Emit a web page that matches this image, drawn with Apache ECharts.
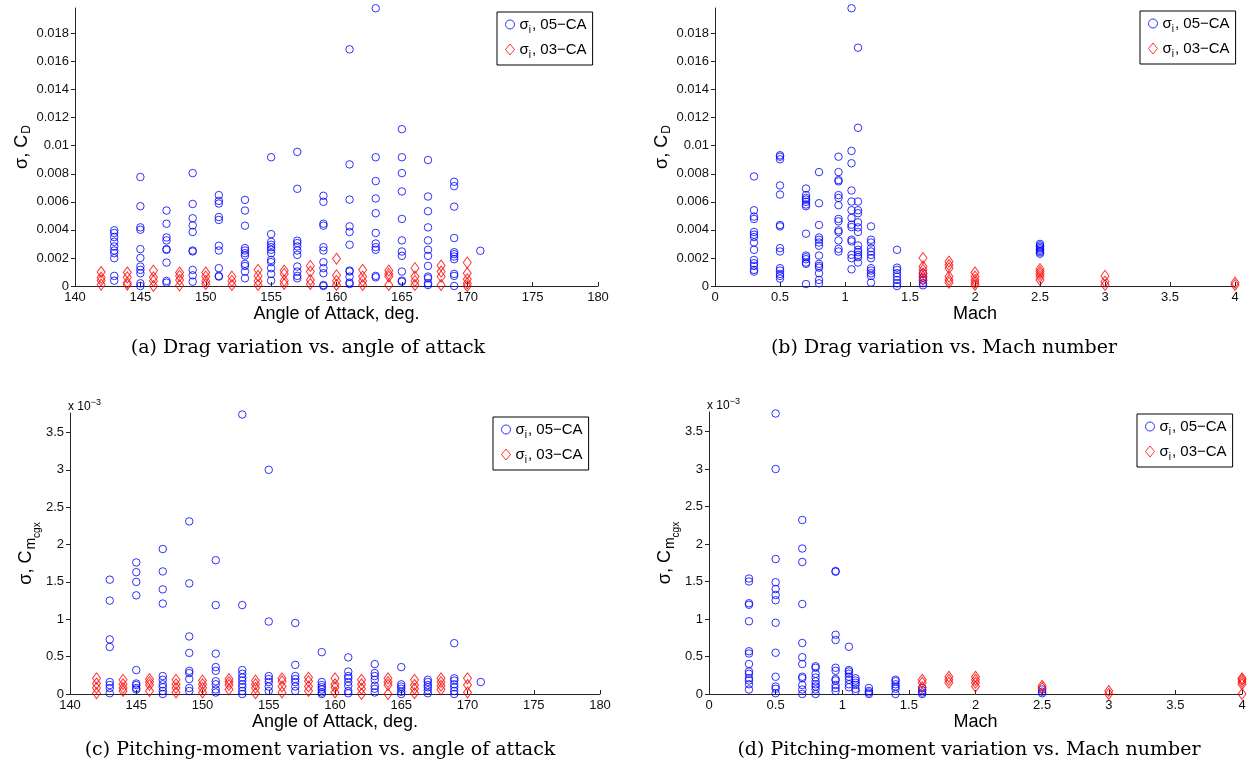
<!DOCTYPE html>
<html>
<head>
<meta charset="utf-8">
<script src="https://cdn.jsdelivr.net/npm/echarts@6/dist/echarts.min.js"></script>
<style>
html,body{margin:0;padding:0;background:#fff;}
#c{width:1255px;height:775px;}
</style>
</head>
<body>
<div id="c"></div>
<script>
// ---------------- DATA ----------------
// Drag sigma (x10^-3) vs angle of attack
const aoaBlueX = [143,145,147,149,151,153,155,157,159,161,163,165,167,169,171];
const cdAoaBlue = [
  [3.97,3.78,3.49,3.15,2.82,2.53,2.34,1.98,0.72,0.38],
  [7.77,5.69,4.18,4.01,2.63,2.0,1.39,1.15,0.91,0.19,0.0],
  [5.38,4.44,3.46,3.25,2.63,2.58,1.67,0.36,0.24],
  [8.05,5.85,4.83,4.32,3.85,2.53,2.46,1.15,0.76,0.31],
  [6.48,6.07,5.88,4.92,4.71,2.87,2.53,1.27,0.72,0.67],
  [6.14,5.38,4.3,2.7,2.53,2.34,2.17,1.58,1.43,1.03,0.55],
  [9.18,3.7,3.15,2.94,2.77,2.58,2.34,1.86,1.7,1.27,0.86,0.38],
  [9.56,6.93,3.23,3.06,2.82,2.53,2.22,1.39,1.03,0.72,0.55],
  [6.43,6.0,4.44,4.3,2.77,2.53,1.7,1.27,0.91,0.07,0.0],
  [16.87,8.67,6.16,4.25,3.85,2.94,1.1,1.03,0.67,0.24,0.14],
  [19.8,9.18,7.48,6.24,5.19,3.78,3.03,2.77,2.58,0.72,0.62],
  [11.18,9.18,8.05,6.74,4.78,3.25,2.46,2.15,1.03,0.38,0.31],
  [8.98,6.38,5.33,4.18,3.25,2.58,2.15,1.43,0.67,0.55,0.19,0.07],
  [7.43,7.12,5.66,3.42,2.41,2.27,2.1,1.91,0.86,0.72,0.0],
  [2.51]
];
const aoaRedX = [142,144,146,148,150,152,154,156,158,160,162,164,166,168,170];
const cdAoaRed = [
  [1.0,0.6,0.4,0.1],
  [0.96,0.62,0.24,0.1],
  [1.1,0.62,0.36,0.0],
  [0.96,0.72,0.43,0.05],
  [0.96,0.67,0.36,0.14],
  [0.67,0.36,0.07],
  [1.15,0.72,0.36,0.07],
  [1.1,0.86,0.38,0.14],
  [1.43,1.03,0.43,0.14],
  [1.94,0.76,0.36,0.07],
  [1.15,0.67,0.36,0.07],
  [1.1,0.86,0.67,0.07],
  [1.27,0.67,0.36,0.07],
  [1.46,1.03,0.67,0.07],
  [1.67,0.91,0.48,0.19,0.0]
];
// Drag sigma (x10^-3) vs Mach
const machBlueX = [0.3,0.5,0.7,0.8,0.95,1.05,1.1,1.2,1.4,1.6,2.5];
const cdMachBlue = [
  [7.81,5.4,4.95,4.78,3.85,3.66,3.49,3.1,2.58,1.86,1.62,1.43,1.15,1.03],
  [9.32,9.22,9.03,7.17,6.52,4.35,4.25,2.7,2.46,1.27,1.1,0.86,0.72,0.53],
  [6.95,6.48,6.28,6.16,6.0,5.81,5.69,3.73,2.17,2.05,1.91,1.67,1.58,0.14],
  [8.12,5.9,4.35,3.46,3.3,3.1,2.87,2.17,1.58,1.43,1.31,0.91,0.43,0.19],
  [9.22,8.12,7.55,7.46,6.48,6.28,5.76,4.78,4.61,3.97,3.85,3.25,2.65,2.46],
  [19.8,9.63,8.75,6.81,6.02,5.4,4.85,4.37,4.2,3.3,3.18,2.22,1.98,1.19],
  [16.99,11.28,6.02,5.4,5.19,4.54,4.18,3.85,2.89,2.58,2.41,2.22,2.05,1.67],
  [4.25,3.3,3.1,2.7,2.46,2.22,1.98,1.27,1.1,0.91,0.72,0.24],
  [2.58,1.31,1.15,0.91,0.67,0.43,0.19,0.0],
  [0.9,0.6,0.4,0.2,0.05],
  [3.0,2.9,2.8,2.7,2.6,2.5,2.4,2.3]
];
const machRedX = [1.6,1.8,2.0,2.5,3.0,4.0];
const cdMachRed = [
  [1.99,1.39,1.15,0.91,0.67,0.43],
  [1.74,1.5,1.27,0.67,0.43,0.24],
  [0.96,0.67,0.43,0.24,0.07],
  [1.2,1.03,0.86,0.67,0.43],
  [0.72,0.31,0.07],
  [0.24,0.07]
];
// Pitching-moment sigma (x10^-3) vs angle of attack
const cmAoaBlue = [
  [1.53,1.25,0.73,0.63,0.16,0.12,0.08,0.01],
  [1.76,1.63,1.5,1.32,0.32,0.14,0.12,0.08,0.06],
  [1.94,1.64,1.4,1.21,0.24,0.19,0.13,0.09,0.04,0.0],
  [2.31,1.48,0.77,0.55,0.31,0.28,0.2,0.08,0.04],
  [1.79,1.19,0.54,0.36,0.31,0.17,0.13,0.06,0.02],
  [3.74,1.19,0.32,0.27,0.22,0.18,0.13,0.09,0.04,0.0],
  [3.0,0.97,0.24,0.2,0.16,0.1,0.04],
  [0.95,0.39,0.24,0.2,0.16,0.1,0.04],
  [0.56,0.16,0.12,0.09,0.06,0.02,0.0],
  [0.49,0.3,0.24,0.21,0.16,0.11,0.04,0.01],
  [0.4,0.28,0.24,0.19,0.11,0.07,0.02],
  [0.36,0.13,0.1,0.07,0.03,0.0],
  [0.19,0.16,0.12,0.09,0.05,0.01],
  [0.68,0.21,0.18,0.13,0.09,0.04,0.0],
  [0.16]
];
const cmAoaRed = [
  [0.21,0.14,0.08,0.01],
  [0.19,0.13,0.08,0.04],
  [0.2,0.16,0.12,0.04],
  [0.19,0.13,0.08,0.02],
  [0.18,0.13,0.08,0.02],
  [0.2,0.16,0.12,0.06],
  [0.18,0.13,0.08,0.01],
  [0.21,0.17,0.1,0.02],
  [0.22,0.17,0.1,0.04],
  [0.21,0.13,0.09,0.02],
  [0.19,0.13,0.07,0.0],
  [0.21,0.16,0.12,0.0],
  [0.19,0.12,0.07,0.01],
  [0.21,0.16,0.11,0.06],
  [0.21,0.12,0.02]
];
// Pitching-moment sigma (x10^-3) vs Mach
const cmMachBlue = [
  [1.54,1.5,1.21,1.19,0.97,0.57,0.54,0.4,0.3,0.27,0.21,0.18,0.13,0.06],
  [3.74,3.0,1.8,1.49,1.4,1.32,1.25,0.95,0.55,0.23,0.1,0.07,0.01],
  [2.32,1.94,1.76,1.2,0.68,0.49,0.4,0.23,0.21,0.12,0.06,0.0],
  [0.37,0.35,0.27,0.22,0.17,0.13,0.1,0.06,0.0],
  [1.64,1.63,0.79,0.72,0.35,0.31,0.2,0.18,0.12,0.08,0.04],
  [0.63,0.32,0.3,0.27,0.23,0.19,0.13,0.09],
  [0.21,0.18,0.15,0.12,0.07,0.04],
  [0.08,0.04,0.02,0.0],
  [0.19,0.17,0.13,0.1,0.07,0.0],
  [0.08,0.05,0.02,0.0],
  [0.06,0.03,0.01]
];
const cmMachRed = [
  [0.19,0.15,0.09],
  [0.23,0.19,0.15],
  [0.23,0.19,0.15,0.1],
  [0.11,0.08],
  [0.04,0.0],
  [0.21,0.19,0.16,0.13,0.0]
];
// tick labels
const cdTicks = [0,2,4,6,8,10,12,14,16,18];        // x10^-3
const cmTicks = [0,0.5,1,1.5,2,2.5,3,3.5];          // x10^-3
const seriesNames = ['05\u2212CA','03\u2212CA'];
const captions = [
  '(a) Drag variation vs. angle of attack',
  '(b) Drag variation vs. Mach number',
  '(c) Pitching-moment variation vs. angle of attack',
  '(d) Pitching-moment variation vs. Mach number'
];

// ---------------- CHART ----------------
const SANS = 'Liberation Sans, Arial, Helvetica, sans-serif';
const SERIF = 'DejaVu Serif, serif';
const AXC = '#262626';
const BLUE = '#0000ff', RED = '#ff0000';

function pts(xs, cols){ const o=[]; xs.forEach((x,i)=>cols[i].forEach(v=>o.push([x,v]))); return o; }

const grids = [
  {left:75, top:8, width:523, height:278},
  {left:715, top:8, width:520, height:278},
  {left:70, top:413, width:530, height:281},
  {left:709, top:412, width:533, height:282}
];

function xAx(i, isAoa){
  return {
    type:'value', gridIndex:i,
    min: isAoa?140:0, max: isAoa?180:4, interval: isAoa?5:0.5,
    axisLine:{show:true, onZero:false, lineStyle:{color:AXC, width:1}},
    axisTick:{show:true, inside:true, length:4, lineStyle:{color:AXC}},
    axisLabel:{margin:5, fontSize:13, fontFamily:SANS, color:'#111'},
    splitLine:{show:false},
    name: isAoa ? 'Angle of Attack, deg.' : 'Mach',
    nameLocation:'middle', nameGap:17,
    nameTextStyle:{fontSize:18, fontFamily:SANS, color:'#000', verticalAlign:'top'}
  };
}
function yAx(i, isCd, gap){
  const ticks = isCd ? cdTicks : cmTicks;
  return {
    type:'value', gridIndex:i, min:0, max: isCd?19.82:3.76,
    axisLine:{show:true, onZero:false, lineStyle:{color:AXC, width:1}},
    axisTick:{show:true, inside:false, length:4, customValues:ticks, lineStyle:{color:AXC}},
    axisLabel:{margin:6, fontSize:13, fontFamily:SANS, color:'#111', customValues:ticks,
      formatter: v => isCd ? String(Number((v/1000).toFixed(4))) : String(v)},
    splitLine:{show:false},
    name: isCd ? '{n|\u03c3, C}{d|D}' : '{n|\u03c3, C}{m|m}{c|cgx}',
    nameLocation:'middle', nameGap:gap, nameRotate:90,
    nameTextStyle:{fontSize:18, fontFamily:SANS, color:'#000',
      rich:{
        n:{fontSize:18, fontFamily:SANS, color:'#000'},
        d:{fontSize:12, fontFamily:SANS, color:'#000', padding:[10,0,0,1]},
        m:{fontSize:14, fontFamily:SANS, color:'#000', padding:[10,0,0,1]},
        c:{fontSize:10, fontFamily:SANS, color:'#000', padding:[22,0,0,0]}
      }}
  };
}

function scatter(name, data, gi, isBlue){
  return {
    type:'scatter', name:name, xAxisIndex:gi, yAxisIndex:gi, data:data,
    symbol: isBlue ? 'circle' : 'diamond',
    symbolSize: isBlue ? 7.5 : [8,11],
    clip:false,
    itemStyle:{color:'transparent', borderColor: isBlue?BLUE:RED, borderWidth:1},
    emphasis:{disabled:true}, silent:true
  };
}

function legend(left, top){
  return {
    orient:'vertical', left:left, top:top,
    backgroundColor:'#fff', borderColor:'#000', borderWidth:1, borderRadius:0,
    padding:[5,6,5,8], itemGap:7, itemWidth:9, itemHeight:11, symbolKeepAspect:false,
    data:[
      {name:seriesNames[0], icon:'circle', itemStyle:{color:'transparent', borderColor:BLUE, borderWidth:1}},
      {name:seriesNames[1], icon:'diamond', itemStyle:{color:'transparent', borderColor:RED, borderWidth:1}}
    ],
    formatter: n => '{t|\u03c3}{s|i}{t|, ' + n + '}',
    textStyle:{fontSize:15, fontFamily:SANS, color:'#000',
      rich:{ t:{fontSize:15, fontFamily:SANS, color:'#000'},
             s:{fontSize:10, fontFamily:SANS, color:'#000', padding:[11,1,0,0]} }},
    selectedMode:false
  };
}

const CAPFONT = '19px ' + SERIF;
const option = {
  animation:false,
  backgroundColor:'#fff',
  grid: grids,
  xAxis:[xAx(0,true), xAx(1,false), xAx(2,true), xAx(3,false)],
  yAxis:[yAx(0,true,40), yAx(1,true,40), yAx(2,false,28), yAx(3,false,22)],
  legend:[legend(497,12), legend(1140,11), legend(493,417), legend(1137,414)],
  series:[
    scatter(seriesNames[0], pts(aoaBlueX, cdAoaBlue), 0, true),
    scatter(seriesNames[1], pts(aoaRedX, cdAoaRed), 0, false),
    scatter(seriesNames[0], pts(machBlueX, cdMachBlue), 1, true),
    scatter(seriesNames[1], pts(machRedX, cdMachRed), 1, false),
    scatter(seriesNames[0], pts(aoaBlueX, cmAoaBlue), 2, true),
    scatter(seriesNames[1], pts(aoaRedX, cmAoaRed), 2, false),
    scatter(seriesNames[0], pts(machBlueX, cmMachBlue), 3, true),
    scatter(seriesNames[1], pts(machRedX, cmMachRed), 3, false)
  ],
  graphic:[
    {type:'text', x:308, y:348, style:{text:captions[0], font:CAPFONT, fill:'#000', align:'center', verticalAlign:'middle'}},
    {type:'text', x:944, y:348, style:{text:captions[1], font:CAPFONT, fill:'#000', align:'center', verticalAlign:'middle'}},
    {type:'text', x:320, y:750, style:{text:captions[2], font:CAPFONT, fill:'#000', align:'center', verticalAlign:'middle'}},
    {type:'text', x:969, y:750, style:{text:captions[3], font:CAPFONT, fill:'#000', align:'center', verticalAlign:'middle'}},
    {type:'text', x:68, y:398, style:{text:'{a|x 10}{b|\u22123}', fill:'#000', align:'left', verticalAlign:'top',
      rich:{a:{fontSize:12, fontFamily:SANS, fill:'#000'}, b:{fontSize:9, fontFamily:SANS, fill:'#000', padding:[0,0,8,0]}}}},
    {type:'text', x:707, y:397, style:{text:'{a|x 10}{b|\u22123}', fill:'#000', align:'left', verticalAlign:'top',
      rich:{a:{fontSize:12, fontFamily:SANS, fill:'#000'}, b:{fontSize:9, fontFamily:SANS, fill:'#000', padding:[0,0,8,0]}}}}
  ]
};

const chart = echarts.init(document.getElementById('c'), null, {renderer:'canvas'});
chart.setOption(option);
</script>
</body>
</html>
